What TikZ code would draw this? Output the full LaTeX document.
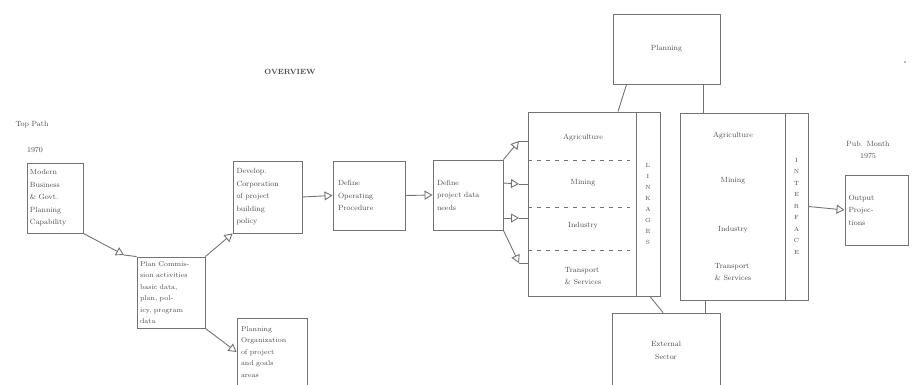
\documentclass[tikz,border=0pt]{standalone}
\usetikzlibrary{arrows.meta,calc}
\begin{document}
\begin{tikzpicture}[x=1pt,y=-1pt,
  every node/.style={inner sep=2pt},
  box/.style={draw=black!55,line width=0.9pt,fill=white},
  txt/.style={text=black!70,font=\fontsize{7.5}{12.5}\selectfont,align=left},
  ln/.style={draw=black!55,line width=0.9pt},
  arr/.style={ln,-{Triangle[open,length=8pt,width=9pt]}},
  dsh/.style={draw=black!55,line width=0.9pt,dash pattern=on 4pt off 5pt}]
\useasboundingbox (0,0) rectangle (914,385);
% free labels
\node[txt] (title) at (290,72) {\textbf{OVERVIEW}};
\node[txt] (top) at (32,125) {Top Path};
\node[txt] (yr) at (35,150) {1970};
\node[txt,align=center] (pub) at (868,150) {Pub. Month\\1975};
\fill[black!55] (905,62) circle (0.8pt);
% boxes
\node[box,minimum width=56pt,minimum height=70pt,text width=50pt,txt,inner sep=1pt] (b1) at (55,198)
  {Modern\\Business\\\& Govt.\\Planning\\Capability};
\node[box,minimum width=68pt,minimum height=71pt,text width=62pt,txt,inner sep=1pt,font=\fontsize{7}{11.5}\selectfont] (b2) at (171,292.5)
  {Plan Commis-\\sion activities\\basic data,\\plan, pol-\\icy, program\\data};
\node[box,minimum width=69pt,minimum height=72pt,text width=62pt,txt,inner sep=1pt] (b3) at (267.5,197)
  {Develop.\\Corporation\\of project\\building\\policy};
\node[box,minimum width=70pt,minimum height=68pt,text width=62pt,txt,inner sep=1pt,font=\fontsize{7}{11.5}\selectfont] (b4) at (272,352)
  {Planning\\Organization\\of project\\and goals\\areas};
\node[box,minimum width=72pt,minimum height=69pt,text width=62pt,txt,inner sep=1pt] (b5) at (369,195.5)
  {Define\\Operating\\Procedure};
\node[box,minimum width=70pt,minimum height=70pt,text width=62pt,txt,inner sep=1pt] (b6) at (468,195)
  {Define\\project data\\needs};
\node[box,minimum width=132pt,minimum height=184pt] (A) at (594,204) {};
\node[box,minimum width=128pt,minimum height=187pt] (B) at (744,206.5) {};
\node[box,minimum width=107pt,minimum height=70pt,txt] (P) at (666.5,49) {Planning};
\node[box,minimum width=108pt,minimum height=75pt,txt,align=center] (E) at (666,350.5) {External\\Sector};
\node[box,minimum width=63pt,minimum height=70pt,text width=56pt,txt,inner sep=1pt] (F) at (876.5,210)
  {Output\\Projec-\\tions};
% box A internals
\draw[ln] ($(A.north east)+(-24,0)$) -- ($(A.south east)+(-24,0)$);
\draw[dsh] (528,160) -- (630,160);
\draw[dsh] (528,207) -- (630,207);
\draw[dsh] (528,250) -- (630,250);
\node[txt] (a1) at (583,138) {Agriculture};
\node[txt] (a2) at (583,183) {Mining};
\node[txt] (a3) at (583,226) {Industry};
\node[txt] (a4) at (583,276) {Transport\\\& Services};
\node[txt,align=center,font=\fontsize{6}{11}\selectfont] (av) at (648,204) {L\\I\\N\\K\\A\\G\\E\\S};
% box B internals
\draw[ln] ($(B.north east)+(-23,0)$) -- ($(B.south east)+(-23,0)$);
\node[txt] (bb1) at (733,136) {Agriculture};
\node[txt] (bb2) at (733,181) {Mining};
\node[txt] (bb3) at (733,230) {Industry};
\node[txt] (bb4) at (733,272) {Transport\\\& Services};
\node[txt,align=center,font=\fontsize{6}{11.5}\selectfont] (bv) at (796.5,206) {I\\N\\T\\E\\R\\F\\A\\C\\E};
% connectors
\coordinate (c1) at (124,255);
\draw[arr] (b1.south east) -- (c1);
\draw[ln] (c1) -- (b2.north west);
\draw[arr] (b2.north east) -- (b3.south west);
\draw[arr] (b2.south east) -- (b4.west);
\draw[arr] (b3.east) -- (b5.west);
\draw[arr] (b5.east) -- (b6.west);
\coordinate (f1) at (519,141);
\coordinate (f2) at (519,184);
\coordinate (f3) at (519,218);
\coordinate (f4) at (519,263);
\draw[arr] (b6.north east) -- (f1);
\draw[arr] ($(b6.east)+(0,-12)$) -- (f2);
\draw[arr] ($(b6.east)+(0,23)$) -- (f3);
\draw[arr] (b6.south east) -- (f4);
\draw[ln] (f1) -- (A.west |- f1);
\draw[ln] (f2) -- (A.west |- f2);
\draw[ln] (f3) -- (A.west |- f3);
\draw[ln] (f4) -- (A.west |- f4);
\draw[ln] (P.south west) ++(14,0) coordinate (p1) -- (A.north -| 618,0);
\draw[ln] (P.south -| 703,0) -- (B.north -| 703,0);
\draw[ln] (A.south -| 650,0) -- (E.north -| 663,0);
\draw[ln] (B.south -| 705,0) -- (E.north -| 705,0);
\draw[arr] (B.east) -- (F.west);
\end{tikzpicture}
\end{document}
